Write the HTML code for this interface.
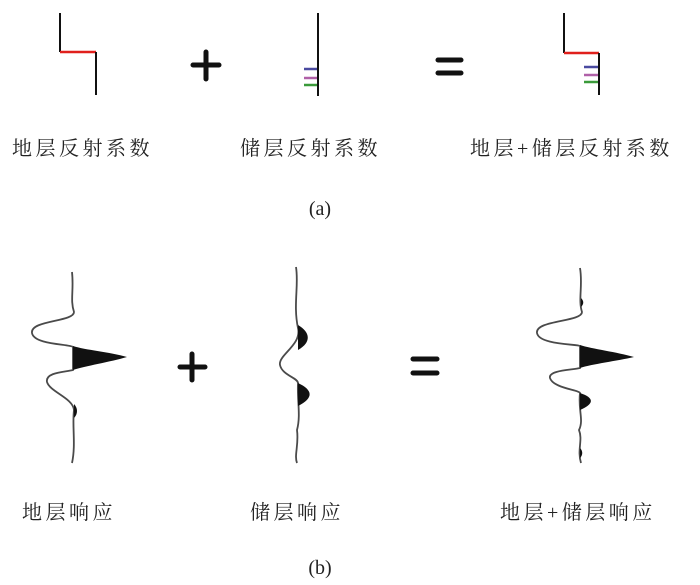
<!DOCTYPE html>
<html><head><meta charset="utf-8"><style>
html,body{margin:0;padding:0;background:#fff;}
svg{display:block}
text{font-family:"Liberation Serif","Noto Serif CJK SC",serif;fill:#222;}
</style></head><body>
<svg width="700" height="585" viewBox="0 0 700 585">
<!-- (a) -->
<g fill="none" stroke-width="2">
<path d="M60 13 V52" stroke="#111"/>
<path d="M60 52 H96" stroke="#e0201c" stroke-width="2.5"/>
<path d="M96 52 V95" stroke="#111"/>
<path d="M318 13 V96" stroke="#111"/>
<path d="M304 69 H317" stroke="#4a4aa0" stroke-width="2.5"/>
<path d="M304 78 H317" stroke="#b060a8" stroke-width="2.5"/>
<path d="M304 85 H317" stroke="#3a9a3a" stroke-width="2.5"/>
<path d="M564 13 V53" stroke="#111"/>
<path d="M564 53 H599" stroke="#e0201c" stroke-width="2.5"/>
<path d="M599 53 V95" stroke="#111"/>
<path d="M584 67 H598" stroke="#4a4aa0" stroke-width="2.5"/>
<path d="M584 75 H598" stroke="#b060a8" stroke-width="2.5"/>
<path d="M584 82 H598" stroke="#3a9a3a" stroke-width="2.5"/>
</g>
<g stroke="#111" stroke-width="5" stroke-linecap="round">
<path d="M193 65 H219 M206 52 V79"/>
<path d="M438 60 H461 M438 73 H461"/>
</g>
<g font-size="20" letter-spacing="3.5">
<text x="12" y="155">地层反射系数</text>
<text x="240" y="155">储层反射系数</text>
<text x="470" y="155">地层+储层反射系数</text>
</g>
<text x="320" y="215" font-size="20" text-anchor="middle">(a)</text>
<!-- (b) -->
<g fill="none" stroke="#4a4a4a" stroke-width="1.8">
<path d="M72 272 C74 290,70 300,74 312 C74 322,30 320,32 333 C34 345,70 344,73 347 L73 370 C66 372,45 372,47 382 C50 392,73 398,74 410 C72 425,76 445,72 463"/>
<path d="M296 267 C299 285,293 305,298 328 C302 345,278 355,280 365 C282 375,298 378,298 383 C297 400,301 415,297 430 C299 445,294 455,297 463"/>
<path d="M580 268 C583 285,578 300,582 312 C582 322,535 320,537 333 C539 345,578 344,580 346 L580 368 C573 370,548 370,550 378 C553 388,579 390,580 393 C578 410,584 420,579 430 C583 440,577 450,581 463"/>
</g>
<g fill="#111">
<path d="M73 346 L73 370 C85 366,110 362,127 357 C110 352,85 350,73 346 Z"/>
<path d="M298 325 C310 332,312 342,298 350 Z"/>
<path d="M298 383 C313 390,314 398,298 406 Z"/>
<path d="M74 404 C78 408,78 414,74 418 Z"/>
<path d="M580 345 L580 368 C592 364,617 361,634 357 C617 352,592 349,580 345 Z"/>
<path d="M580 393 C595 398,594 404,580 410 Z"/>
<path d="M581 298 C584 301,584 304,581 307 Z"/>
<path d="M580 448 C583 451,583 455,580 458 Z"/>
</g>
<g stroke="#111" stroke-width="5" stroke-linecap="round">
<path d="M180 367 H205 M192 354 V380"/>
<path d="M413 359 H437 M413 373 H437"/>
</g>
<g font-size="20" letter-spacing="3.5">
<text x="22" y="519">地层响应</text>
<text x="250" y="519">储层响应</text>
<text x="500" y="519">地层+储层响应</text>
</g>
<text x="320" y="574" font-size="20" text-anchor="middle">(b)</text>
</svg>
</body></html>
